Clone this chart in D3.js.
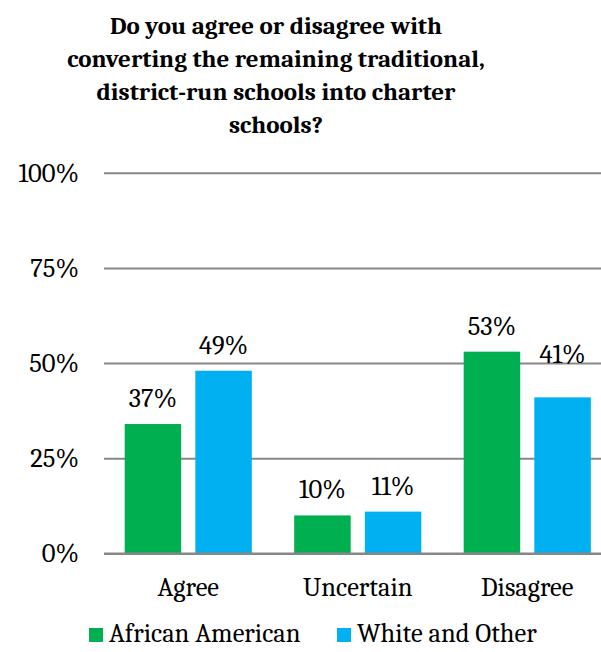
<!DOCTYPE html>
<html>
<head>
<meta charset="utf-8">
<script src="https://cdn.jsdelivr.net/npm/d3@7"></script>
</head>
<body style="margin:0;padding:0;background:#fff">
<svg id="chart" width="601" height="652" style="display:block"></svg>
<script>
// ---- data ----
const categories = ["Agree", "Uncertain", "Disagree"];
const seriesNames = ["African American", "White and Other"];
const africanAmerican = [34, 10, 53];        // bar heights (%)
const whiteAndOther = [48, 11, 41];          // bar heights (%)
const africanAmericanLabels = ["37%", "10%", "53%"];
const whiteAndOtherLabels = ["49%", "11%", "41%"];
const yTicks = [0, 25, 50, 75, 100];
const titleLines = [
  "Do you agree or disagree with",
  "converting the remaining traditional,",
  "district-run schools into charter",
  "schools?"
];
const colors = ["#00B050", "#00B0F0"];

// ---- build ----
const FONT = '"Caladea", "Cambria", "Liberation Serif", serif';
const FS = "26.5px";
const rows = categories.map((c, i) => ({
  cat: c,
  vals: [
    { s: seriesNames[0], v: africanAmerican[i], label: africanAmericanLabels[i] },
    { s: seriesNames[1], v: whiteAndOther[i], label: whiteAndOtherLabels[i] }
  ]
}));

const svg = d3.select("#chart");
const plot = { left: 104, right: 612, top: 172.7, bottom: 553.5 };

const x0 = d3.scaleBand().domain(categories).range([plot.left - 0.5, plot.right]).padding(0);
const x1 = d3.scaleBand().domain(seriesNames).range([0, x0.bandwidth()])
  .paddingInner(0.2).paddingOuter(0.3);
const y = d3.scaleLinear().domain([0, 100]).range([plot.bottom, plot.top]);

// title
const title = svg.append("g");
titleLines.forEach((t, i) => {
  title.append("text")
    .attr("x", 276).attr("y", 33.5 + i * 33.3)
    .attr("text-anchor", "middle")
    .style("font-family", FONT)
    .style("font-weight", "bold").style("font-size", "25px")
    .style("fill", "#000")
    .text(t);
});

// gridlines + y labels
const yAxis = d3.axisLeft(y).tickValues(yTicks).tickFormat(d => d + "%")
  .tickSize(-(plot.right - plot.left)).tickPadding(25);
const gy = svg.append("g").attr("transform", `translate(${plot.left},0)`).call(yAxis);
gy.select(".domain").remove();
gy.selectAll(".tick line").attr("stroke", "#878787").attr("stroke-width", 2);
gy.selectAll(".tick text").style("font-size", FS).style("fill", "#000")
  .style("font-family", FONT);

// bars
const groups = svg.append("g").selectAll("g").data(rows).join("g")
  .attr("transform", d => `translate(${x0(d.cat)},0)`);
groups.selectAll("rect").data(d => d.vals).join("rect")
  .attr("x", d => x1(d.s))
  .attr("width", x1.bandwidth())
  .attr("y", d => y(d.v))
  .attr("height", d => y(0) - y(d.v))
  .attr("fill", (d, i) => colors[i]);

// x axis baseline
svg.append("line").attr("x1", plot.left).attr("x2", plot.right)
  .attr("y1", y(0)).attr("y2", y(0)).attr("stroke", "#878787").attr("stroke-width", 2);

// data labels (the "41%" label sits higher in the original)
const labelLift = { "Disagree|White and Other": 17 };
groups.each(function(row) {
  d3.select(this).selectAll("text.lbl").data(row.vals).join("text")
    .attr("class", "lbl")
    .attr("x", d => x1(d.s) + x1.bandwidth() / 2)
    .attr("y", d => y(d.v) - 17 - (labelLift[row.cat + "|" + d.s] || 0))
    .attr("text-anchor", "middle")
    .style("font-family", FONT).style("font-size", FS).style("fill", "#000")
    .text(d => d.label);
});

// x category labels
const xAxis = d3.axisBottom(x0).tickSize(0).tickPadding(0);
const gx = svg.append("g").attr("transform", `translate(0,${plot.bottom})`).call(xAxis);
gx.select(".domain").remove();
gx.selectAll(".tick text").attr("dy", 0).attr("y", 42.5)
  .style("font-size", FS).style("fill", "#000").style("font-family", FONT);

// legend
const legendX = [89, 337];
const legend = svg.append("g").selectAll("g").data(seriesNames).join("g")
  .attr("transform", (d, i) => `translate(${legendX[i]},0)`);
legend.append("rect").attr("x", 0).attr("y", 628).attr("width", 14).attr("height", 14)
  .attr("fill", (d, i) => colors[i]);
legend.append("text").attr("x", 20).attr("y", 642)
  .style("font-family", FONT).style("font-size", FS).style("fill", "#000")
  .text(d => d);
</script>
</body>
</html>
